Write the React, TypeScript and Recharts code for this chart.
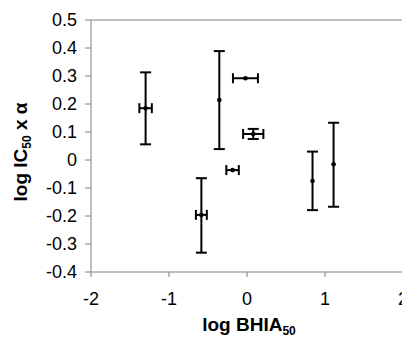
import React from "react"
import { ScatterChart, Scatter, XAxis, YAxis, ErrorBar, ReferenceLine, Label } from "recharts"

// log BHIA50 vs log IC50 x alpha
const xVals = [-1.3, -0.355, -0.02, 0.08, -0.185, -0.585, 0.84, 1.11]
const yVals = [0.185, 0.214, 0.292, 0.093, -0.036, -0.196, -0.075, -0.015]
const xErr = [0.08, 0, 0.16, 0.13, 0.08, 0.07, 0, 0]
const yErrLow = [0.129, 0.175, 0, 0.018, 0, 0.135, 0.104, 0.152]
const yErrHigh = [0.128, 0.175, 0, 0.018, 0, 0.131, 0.105, 0.148]

const xTicks = [-2, -1, 0, 1, 2]
const yTicks = [-0.4, -0.3, -0.2, -0.1, 0, 0.1, 0.2, 0.3, 0.4, 0.5]

const data = xVals.map((x, i) => ({
  x,
  y: yVals[i],
  xErr: xErr[i] || null,
  yErr: yErrLow[i] || yErrHigh[i] ? [yErrLow[i], yErrHigh[i]] : null,
}))

const font = "'Liberation Sans', Arial, sans-serif"
const axisGray = "#808080"

const XTitle = () => (
  <text x={249} y={331} textAnchor="middle" fontFamily={font} fontSize={19} fontWeight="bold" fill="#000">
    log BHIA<tspan fontSize={12} dy={4}>50</tspan>
  </text>
)

const YTitle = () => (
  <text
    x={27}
    y={152}
    textAnchor="middle"
    fontFamily={font}
    fontSize={19}
    fontWeight="bold"
    fill="#000"
    transform="rotate(-90 27 152)"
  >
    log IC<tspan fontSize={12} dy={4}>50</tspan>
    <tspan dy={-4}> x α</tspan>
  </text>
)

const XTick = (props: any) => (
  <text x={props.x} y={props.y + 14} textAnchor="middle" fontFamily={font} fontSize={18} fill="#000">
    {props.payload.value}
  </text>
)

const YTick = (props: any) => (
  <text x={props.x} y={props.y + 6.3} textAnchor="end" fontFamily={font} fontSize={18} fill="#000">
    {Math.round(props.payload.value * 10) / 10}
  </text>
)

const Dot = (props: any) => <circle cx={props.cx} cy={props.cy} r={2.3} fill="#000" />

export default function App() {
  return (
    <div style={{ position: "absolute", left: 0, top: 0, width: 402, height: 337, overflow: "hidden", background: "#fff" }}>
      <ScatterChart width={430} height={337} margin={{ top: 20, right: 27, bottom: 0, left: 31 }}>
        <XAxis
          type="number"
          dataKey="x"
          domain={[-2, 2]}
          ticks={xTicks}
          height={65}
          stroke={axisGray}
          tickSize={5}
          tickMargin={14}
          tick={<XTick />}
        >
          <Label content={() => <XTitle />} />
        </XAxis>
        <YAxis
          type="number"
          dataKey="y"
          domain={[-0.4, 0.5]}
          ticks={yTicks}
          width={60}
          stroke={axisGray}
          tickSize={6}
          tickMargin={8}
          tick={<YTick />}
        >
          <Label content={() => <YTitle />} />
        </YAxis>
        <ReferenceLine y={0.5} stroke={axisGray} strokeWidth={1} />
        <Scatter data={data} fill="#000" shape={<Dot />} isAnimationActive={false}>
          <ErrorBar dataKey="yErr" direction="y" width={5.5} stroke="#000" strokeWidth={2} />
          <ErrorBar dataKey="xErr" direction="x" width={5} stroke="#000" strokeWidth={2} />
        </Scatter>
      </ScatterChart>
    </div>
  )
}
